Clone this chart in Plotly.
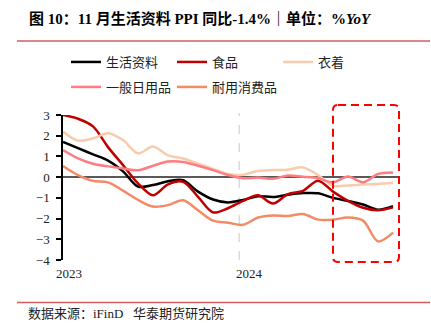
import plotly.graph_objects as go

# Monthly PPI year-on-year (%), Jan 2023 - Nov 2024
months = list(range(23))
year_ticks = [0, 12]
year_labels = ["2023", "2024"]

living = [1.7, 1.4, 1.1, 0.8, 0.28, -0.45, -0.38, -0.2, -0.15, -0.7, -1.08, -1.22,
          -1.1, -0.92, -0.96, -0.85, -0.77, -0.78, -1.0, -1.15, -1.32, -1.57, -1.4]
food = [3.0, 2.82, 2.45, 1.45, 0.58, -0.3, -0.88, -0.35, -0.22, -0.95, -1.7, -1.5,
        -1.15, -0.88, -1.27, -0.82, -0.66, -0.17, -0.7, -1.15, -1.48, -1.6, -1.46]
clothing = [2.2, 1.76, 1.87, 2.12, 1.79, 1.15, 1.48, 1.05, 0.9, 0.65, 0.4, 0.15,
            0.12, 0.3, 0.34, 0.36, 0.47, 0.1, -0.42, -0.4, -0.36, -0.33, -0.27]
daily = [1.31, 0.91, 0.65, 0.52, 0.42, 0.33, 0.55, 0.75, 0.73, 0.55, 0.34, 0.1,
         -0.05, -0.02, -0.08, 0.08, 0.02, -0.05, -0.25, 0.03, -0.25, 0.15, 0.22]
durable = [0.54, 0.1, -0.18, -0.25, -0.65, -1.1, -1.42, -1.35, -1.12, -1.6, -2.1, -2.2,
           -2.3, -1.95, -1.85, -1.88, -1.78, -2.05, -2.05, -1.95, -2.1, -3.1, -2.68]

series = [
    ("生活资料", living, "#000000", "legend"),
    ("食品", food, "#C00000", "legend"),
    ("衣着", clothing, "#F8CBAD", "legend"),
    ("一般日用品", daily, "#FF7C80", "legend2"),
    ("耐用消费品", durable, "#F28B66", "legend2"),
]

SERIF = "Liberation Serif, Noto Sans CJK SC, serif"
SANS = "Noto Sans CJK SC, sans-serif"

fig = go.Figure()
for name, vals, color, lg in series:
    fig.add_trace(go.Scatter(
        x=months, y=vals, name=name, mode="lines",
        line=dict(color=color, width=2.5, shape="spline", smoothing=0.9),
        legend=lg,
    ))

# plot area occupies x 63..398, y 115..260 of the 431x333 canvas
L, R, T, B = 63, 33, 115, 73
W, H = 431, 333
pw, ph = W - L - R, H - T - B


def px(xp):
    return (xp - L) / pw


def py(yp):
    return (H - B - yp) / ph


shapes = [
    # rule under the title
    dict(type="line", xref="paper", yref="paper", x0=px(17), x1=px(430), y0=py(41), y1=py(41),
         line=dict(color="#D06060", width=1.5)),
    # rule above the source note
    dict(type="line", xref="paper", yref="paper", x0=px(17), x1=px(430), y0=py(302.5), y1=py(302.5),
         line=dict(color="#D06060", width=1.5)),
    # year boundary
    dict(type="line", xref="x", yref="paper", x0=11.75, x1=11.75, y0=0, y1=py(113),
         line=dict(color="#D9D9D9", width=1.5, dash="dash"), layer="below"),
]

# highlighted recent months: dashed rounded rectangle
bx0, bx1, by0, by1 = px(333), px(399), py(262), py(105)
rx, ry = 5 / pw, 5 / ph
path = (f"M{bx0+rx},{by1} L{bx1-rx},{by1} Q{bx1},{by1} {bx1},{by1-ry} "
        f"L{bx1},{by0+ry} Q{bx1},{by0} {bx1-rx},{by0} "
        f"L{bx0+rx},{by0} Q{bx0},{by0} {bx0},{by0+ry} "
        f"L{bx0},{by1-ry} Q{bx0},{by1} {bx0+rx},{by1} Z")
shapes.append(dict(type="path", xref="paper", yref="paper", path=path,
                   line=dict(color="#FF0000", width=2, dash="8px,5px")))

annotations = [
    dict(text="<b>图 10：11 月生活资料 PPI 同比-1.4%｜单位：%<i>YoY</i></b>",
         xref="paper", yref="paper", x=px(27), y=py(18), xanchor="left", yanchor="middle",
         showarrow=False, font=dict(family=SERIF, size=15, color="#000000")),
    dict(text="数据来源：iFinD   华泰期货研究院",
         xref="paper", yref="paper", x=px(26), y=py(313), xanchor="left", yanchor="middle",
         showarrow=False, font=dict(family=SERIF, size=13, color="#222222")),
]

legend_common = dict(orientation="h", xanchor="left", yanchor="middle",
                     bgcolor="rgba(0,0,0,0)", borderwidth=0,
                     font=dict(family=SANS, size=13, color="#222222"),
                     entrywidth=61, entrywidthmode="pixels", itemwidth=30)

fig.update_layout(
    width=W, height=H,
    margin=dict(l=L, r=R, t=T, b=B, pad=0),
    paper_bgcolor="#FFFFFF", plot_bgcolor="#FFFFFF",
    showlegend=True,
    legend=dict(x=px(66), y=py(62), **legend_common),
    legend2=dict(x=px(66), y=py(87), **legend_common),
    xaxis=dict(range=[0, 22.33], showgrid=False, zeroline=False, showline=False,
               tickvals=year_ticks, ticktext=year_labels, ticks="",
               ticklabelshift=6, ticklabelstandoff=4,
               tickfont=dict(family=SERIF, size=13, color="#222222")),
    yaxis=dict(range=[-4, 3], dtick=1, showgrid=False,
               zeroline=True, zerolinecolor="#595959", zerolinewidth=1.5,
               showline=True, linecolor="#000000", linewidth=1.5,
               ticks="outside", ticklen=5, tickcolor="#000000", tickwidth=1.5,
               ticklabelstandoff=4,
               tickfont=dict(family=SERIF, size=13, color="#222222")),
    shapes=shapes,
    annotations=annotations,
)

fig.write_html("out.html")
